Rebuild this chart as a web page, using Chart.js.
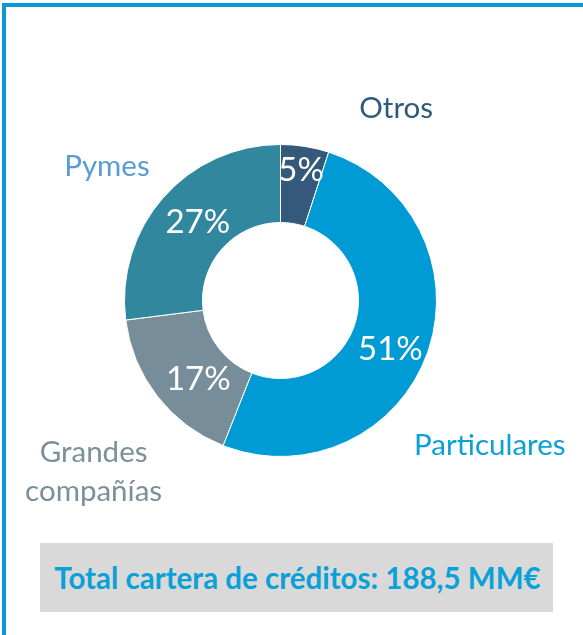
<!DOCTYPE html>
<html><head><meta charset="utf-8">
<script src="https://cdn.jsdelivr.net/npm/chart.js@4/dist/chart.umd.min.js"></script>
<style>
html,body{margin:0;padding:0;background:#fff;width:583px;height:635px;overflow:hidden;}
#topbar{position:absolute;left:2px;top:3px;width:581px;height:4px;background:#0a98d6;}
#leftbar{position:absolute;left:2px;top:3px;width:4px;height:632px;background:#0a98d6;}
#wrap{position:absolute;left:0;top:0;width:583px;height:635px;}
#total{position:absolute;left:40px;top:543px;width:513px;height:69px;background:#d9d9d9;color:#0aa0d8;font:bold 29.5px Lato, "Open Sans", sans-serif;display:flex;align-items:center;justify-content:center;padding-left:2px;box-sizing:border-box;}
</style></head>
<body>
<div id="topbar"></div>
<div id="leftbar"></div>
<div id="wrap"><canvas id="c" width="583" height="635"></canvas></div>
<div id="total">Total cartera de créditos: 188,5 MM€</div>
<script>
const categories = ["Otros", "Particulares", ["Grandes", "compañías"], "Pymes"];
const values = [5, 51, 17, 27];
const valueLabels = ["5%", "51%", "17%", "27%"];

const sliceColors = ["#34597a", "#009ad5", "#778e9a", "#31889e"];
const labelColors = ["#2e5a7c", "#0aa0d8", "#7a909b", "#5b9bd5"];
// polar placement of outside labels: angle (deg, clockwise from top), distance in outer-radius units
const outAngle = [31, 124.6, 227.7, 307.9];
const outDist = [1.44, 1.63, 1.62, 1.41];
// inner label placement: radial fraction across ring, angle tweak
const inFrac = [0.69, 0.54, 0.46, 0.46];
const inTweak = [0, 4, -6, 2];

const labelPlugin = {
  id: 'labels',
  afterDatasetsDraw(chart) {
    const ctx = chart.ctx;
    const meta = chart.getDatasetMeta(0);
    meta.data.forEach((arc, i) => {
      const p = arc.getProps(['x','y','startAngle','endAngle','innerRadius','outerRadius'], true);
      const mid = (p.startAngle + p.endAngle) / 2 + inTweak[i] * Math.PI / 180;
      const r = p.innerRadius + inFrac[i] * (p.outerRadius - p.innerRadius);
      ctx.save();
      ctx.fillStyle = '#ffffff';
      ctx.font = '33px Lato, "Open Sans", sans-serif';
      ctx.textAlign = 'center';
      ctx.textBaseline = 'middle';
      ctx.fillText(valueLabels[i], p.x + r * Math.cos(mid), p.y + r * Math.sin(mid));
      // outside labels
      const a = (outAngle[i] - 90) * Math.PI / 180;
      const d = outDist[i] * p.outerRadius;
      const cx = p.x + d * Math.cos(a), cy = p.y + d * Math.sin(a);
      ctx.fillStyle = labelColors[i];
      ctx.font = '29.5px Lato, "Open Sans", sans-serif';
      const lines = Array.isArray(categories[i]) ? categories[i] : [categories[i]];
      const lh = 39;
      lines.forEach((t, k) => {
        ctx.fillText(t, cx, cy + 1 + (k - (lines.length - 1) / 2) * lh);
      });
      ctx.restore();
    });
  }
};

new Chart(document.getElementById('c'), {
  type: 'doughnut',
  data: {
    labels: categories.map(c => Array.isArray(c) ? c.join(' ') : c),
    datasets: [{
      data: values,
      backgroundColor: sliceColors,
      borderColor: '#ffffff',
      borderWidth: 1
    }]
  },
  options: {
    responsive: false,
    animation: false,
    cutout: '50%',
    layout: { padding: { left: 124, right: 146, top: 144, bottom: 178 } },
    plugins: { legend: { display: false }, tooltip: { enabled: false } }
  },
  plugins: [labelPlugin]
});
</script>
</body></html>
